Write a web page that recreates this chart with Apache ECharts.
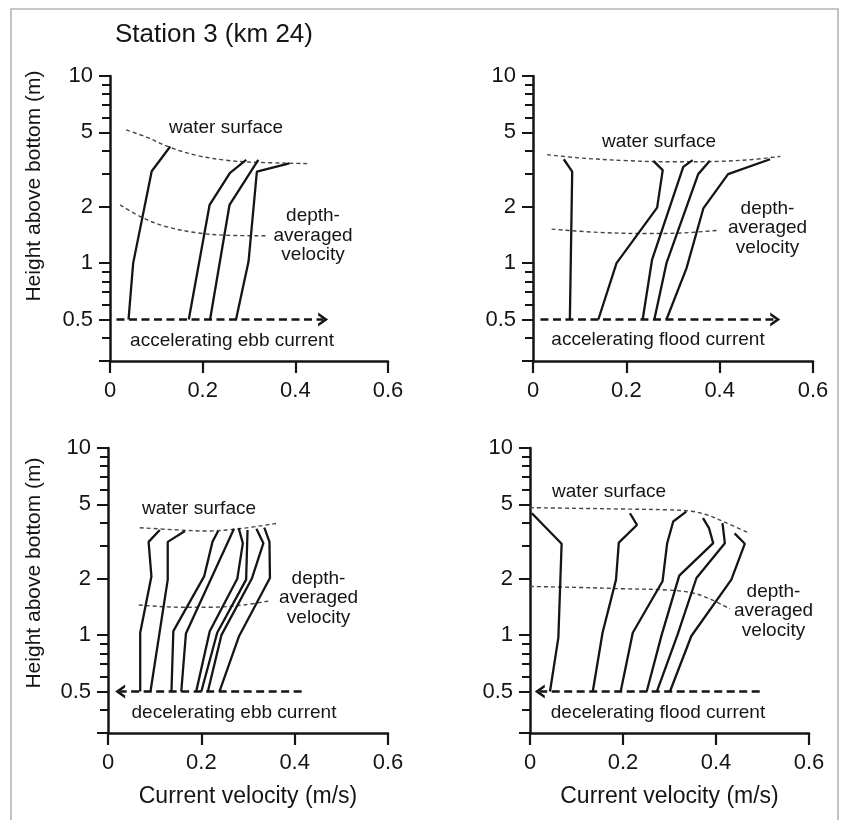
<!DOCTYPE html>
<html><head><meta charset="utf-8">
<script src="https://cdn.jsdelivr.net/npm/echarts@6/dist/echarts.min.js"></script>
<style>html,body{margin:0;padding:0;background:#fff}#c{width:845px;height:820px}</style>
</head><body><div id="c"></div>
<script>
// ---------- tick values ----------
const xTicks = [0, 0.2, 0.4, 0.6];
const yMajorTicks = [0.3, 0.5, 1, 2, 5, 10];
const yTickLabels = [0.5, 1, 2, 5, 10];
const yMinorTicks = [0.4, 0.6, 0.7, 0.8, 0.9, 3, 4, 6, 7, 8, 9];

// ---------- panel titles ----------
const panelNames = ['accelerating ebb current', 'accelerating flood current', 'decelerating ebb current', 'decelerating flood current'];

// ---------- accelerating ebb (top-left): [velocity m/s, height m] ----------
const aeP1 = [[0.04,0.5],[0.05,1.0],[0.09,3.1],[0.13,4.2]];
const aeP2 = [[0.17,0.5],[0.215,2.05],[0.259,3.04],[0.294,3.56]];
const aeP3 = [[0.216,0.5],[0.258,2.05],[0.32,3.56]];
const aeP4 = [[0.272,0.5],[0.299,1.02],[0.317,3.08],[0.387,3.41]];
const aeSurface = [[0.035,5.15],[0.08,4.7],[0.13,4.15],[0.19,3.75],[0.25,3.55],[0.3,3.47],[0.43,3.4]];
const aeDepthAvg = [[0.022,2.05],[0.07,1.75],[0.12,1.57],[0.19,1.45],[0.25,1.41],[0.34,1.4]];
const aeArrow = [0.014, 0.46];

// ---------- accelerating flood (top-right) ----------
const afP1 = [[0.079,0.5],[0.084,3.08],[0.066,3.59]];
const afP2 = [[0.14,0.5],[0.179,1.0],[0.266,1.98],[0.278,3.14],[0.258,3.52]];
const afP3 = [[0.235,0.5],[0.255,1.04],[0.322,3.27],[0.342,3.55]];
const afP4 = [[0.26,0.5],[0.286,1.0],[0.354,2.99],[0.379,3.52]];
const afP5 = [[0.286,0.5],[0.329,0.94],[0.365,1.96],[0.418,2.99],[0.508,3.59]];
const afSurface = [[0.03,3.8],[0.1,3.65],[0.2,3.53],[0.3,3.48],[0.4,3.5],[0.47,3.58],[0.53,3.72]];
const afDepthAvg = [[0.04,1.52],[0.14,1.46],[0.24,1.44],[0.32,1.45],[0.4,1.5]];
const afArrow = [0.016, 0.519];

// ---------- decelerating ebb (bottom-left) ----------
const deP1 = [[0.069,0.5],[0.069,1.03],[0.093,2.06],[0.087,3.15],[0.111,3.65]];
const deP2 = [[0.091,0.5],[0.128,1.98],[0.128,3.15],[0.165,3.6]];
const deP3 = [[0.136,0.5],[0.14,1.05],[0.206,2.06],[0.224,3.16],[0.236,3.6]];
const deP4 = [[0.157,0.5],[0.167,1.02],[0.27,3.7]];
const deP5 = [[0.189,0.5],[0.218,1.05],[0.277,2.0],[0.289,3.1],[0.28,3.73]];
const deP6 = [[0.2,0.5],[0.234,1.03],[0.296,1.98],[0.299,3.65]];
const deP7 = [[0.214,0.5],[0.243,1.0],[0.308,2.0],[0.333,3.1],[0.318,3.7]];
const deP8 = [[0.239,0.5],[0.281,0.99],[0.347,2.02],[0.346,3.15],[0.335,3.75]];
const deSurface = [[0.068,3.75],[0.15,3.65],[0.21,3.6],[0.28,3.7],[0.36,3.95]];
const deDepthAvg = [[0.066,1.45],[0.15,1.41],[0.22,1.41],[0.29,1.45],[0.35,1.53]];
const deArrow = [0.415, 0.026];

// ---------- decelerating flood (bottom-right) ----------
const dfP1 = [[0.043,0.5],[0.061,0.97],[0.068,3.08],[0.004,4.48]];
const dfP2 = [[0.135,0.5],[0.156,1.03],[0.185,1.98],[0.191,3.12],[0.23,3.88],[0.215,4.48]];
const dfP3 = [[0.195,0.5],[0.221,1.03],[0.285,1.94],[0.295,3.1],[0.308,4.05],[0.336,4.57]];
const dfP4 = [[0.251,0.5],[0.283,1.0],[0.321,2.08],[0.394,3.1],[0.385,3.73],[0.372,4.22]];
const dfP5 = [[0.273,0.5],[0.317,1.0],[0.358,2.02],[0.419,3.1],[0.414,3.97]];
const dfP6 = [[0.301,0.5],[0.347,0.99],[0.433,1.98],[0.462,3.08],[0.44,3.5]];
const dfSurface = [[0,4.8],[0.1,4.76],[0.2,4.72],[0.3,4.67],[0.345,4.6],[0.38,4.4],[0.42,4.0],[0.47,3.52]];
const dfDepthAvg = [[0,1.82],[0.1,1.8],[0.2,1.77],[0.3,1.74],[0.35,1.68],[0.39,1.55],[0.43,1.38]];
const dfArrow = [0.494, 0.021];

const arrowHeight = 0.5;

// ---------- build ----------
const FONT = '"Liberation Sans", Arial, Helvetica, sans-serif';
const INK = '#151515';
const profiles = [
  [aeP1, aeP2, aeP3, aeP4],
  [afP1, afP2, afP3, afP4, afP5],
  [deP1, deP2, deP3, deP4, deP5, deP6, deP7, deP8],
  [dfP1, dfP2, dfP3, dfP4, dfP5, dfP6]
];
const surfaces = [aeSurface, afSurface, deSurface, dfSurface];
const depthAvgs = [aeDepthAvg, afDepthAvg, deDepthAvg, dfDepthAvg];
const arrows = [aeArrow, afArrow, deArrow, dfArrow];

const grids = [
  {left:110, top:76, width:278, height:285},
  {left:533, top:76, width:280, height:285},
  {left:108, top:448, width:280, height:285},
  {left:530, top:448, width:279, height:285}
];

const xAxes = [], yAxes = [], series = [];
grids.forEach((g, i) => {
  xAxes.push({
    type:'value', gridIndex:i, min:0, max:0.6, interval:0.2,
    axisLine:{show:true, onZero:false, lineStyle:{color:INK, width:2.5}},
    axisTick:{show:true, length:12, lineStyle:{color:INK, width:2.2}},
    axisLabel:{fontFamily:FONT, fontSize:22, color:INK, margin:19,
      formatter:v => String(+(+v).toFixed(1))},
    splitLine:{show:false},
    name: i >= 2 ? 'Current velocity (m/s)' : '',
    nameLocation:'middle', nameGap:52,
    nameTextStyle:{fontFamily:FONT, fontSize:23, color:INK}
  });
});
grids.forEach((g, i) => {
  yAxes.push({
    type:'log', logBase:10, gridIndex:i, position:'left', min:0.3, max:10,
    axisLine:{show:true, onZero:false, lineStyle:{color:INK, width:2.5}},
    axisTick:{show:true, customValues:yMajorTicks, length:11, lineStyle:{color:INK, width:2}},
    axisLabel:{show:true, customValues:yTickLabels, fontFamily:FONT, fontSize:22, color:INK, margin:17,
      formatter:v => String(+(+v).toPrecision(3))},
    splitLine:{show:false}, minorTick:{show:false}
  });
});
grids.forEach((g, i) => {
  yAxes.push({
    type:'log', logBase:10, gridIndex:i, position:'left', offset:0, min:0.3, max:10,
    axisLine:{show:false, onZero:false},
    axisTick:{show:true, customValues:yMinorTicks, length:8, lineStyle:{color:INK, width:2}},
    axisLabel:{show:false},
    splitLine:{show:false}
  });
});

const chevron = 'path://M0,10 L5,0 L10,10 L7.8,10 L5,4.4 L2.2,10 Z';

grids.forEach((g, i) => {
  profiles[i].forEach((p, k) => {
    series.push({
      type:'line', name:'profile', xAxisIndex:i, yAxisIndex:i, data:p,
      showSymbol:false, symbol:'none', clip:false,
      lineStyle:{color:INK, width:2.3}, silent:true, z:3
    });
  });
  series.push({
    type:'line', name:'water surface', xAxisIndex:i, yAxisIndex:i, data:surfaces[i],
    showSymbol:false, symbol:'none', smooth:0.35, clip:false,
    lineStyle:{color:'#454545', width:1.4, type:[4,3]}, silent:true, z:2
  });
  series.push({
    type:'line', name:'depth-averaged velocity', xAxisIndex:i, yAxisIndex:i, data:depthAvgs[i],
    showSymbol:false, symbol:'none', smooth:0.35, clip:false,
    lineStyle:{color:'#454545', width:1.4, type:[4,3]}, silent:true, z:2
  });
  series.push({
    type:'line', name:'tidal phase', xAxisIndex:i, yAxisIndex:i, data:[],
    silent:true, z:4,
    markLine:{
      silent:true, animation:false, symbol:['none', chevron], symbolSize:[14, 10],
      label:{show:false},
      lineStyle:{color:INK, width:2.6, type:[8,4.5]},
      emphasis:{disabled:true},
      data:[[{coord:[arrows[i][0], arrowHeight]}, {coord:[arrows[i][1], arrowHeight]}]]
    }
  });
});

function txt(x, y, text, size, extra) {
  return Object.assign({
    type:'text', x:x, y:y, silent:true, z:10,
    style:{text:text, font:(size || 19) + 'px ' + FONT, fill:INK, align:'center', verticalAlign:'middle', lineHeight:19.5}
  }, extra || {});
}
const annoPos = [
  {ws:[226,128], da:[313,235.5], ph:[232,341]},
  {ws:[659,142], da:[767.5,228], ph:[658,340]},
  {ws:[199,509], da:[318.5,598], ph:[234,713]},
  {ws:[609,492], da:[773.5,611], ph:[658,713]}
];
const graphics = [
  {type:'rect', shape:{x:11, y:9, width:827, height:840}, style:{fill:'none', stroke:'#b4b4b4', lineWidth:1.6}, silent:true, z:0},
  {type:'text', x:115, y:35, silent:true, style:{text:'Station 3 (km 24)', font:'26px ' + FONT, fill:INK, align:'left', verticalAlign:'middle'}},
  {type:'text', x:34, y:186, rotation:Math.PI/2, silent:true, style:{text:'Height above bottom (m)', font:'21px ' + FONT, fill:INK, align:'center', verticalAlign:'middle'}},
  {type:'text', x:34, y:573, rotation:Math.PI/2, silent:true, style:{text:'Height above bottom (m)', font:'21px ' + FONT, fill:INK, align:'center', verticalAlign:'middle'}}
];
annoPos.forEach((a, i) => {
  graphics.push(txt(a.ws[0], a.ws[1], 'water surface'));
  graphics.push(txt(a.da[0], a.da[1], 'depth-\naveraged\nvelocity'));
  graphics.push(txt(a.ph[0], a.ph[1], panelNames[i]));
});

const chart = echarts.init(document.getElementById('c'), null, {renderer:'canvas'});
chart.setOption({
  animation:false,
  backgroundColor:'#ffffff',
  grid:grids,
  xAxis:xAxes,
  yAxis:yAxes,
  series:series,
  graphic:graphics
});
</script></body></html>
